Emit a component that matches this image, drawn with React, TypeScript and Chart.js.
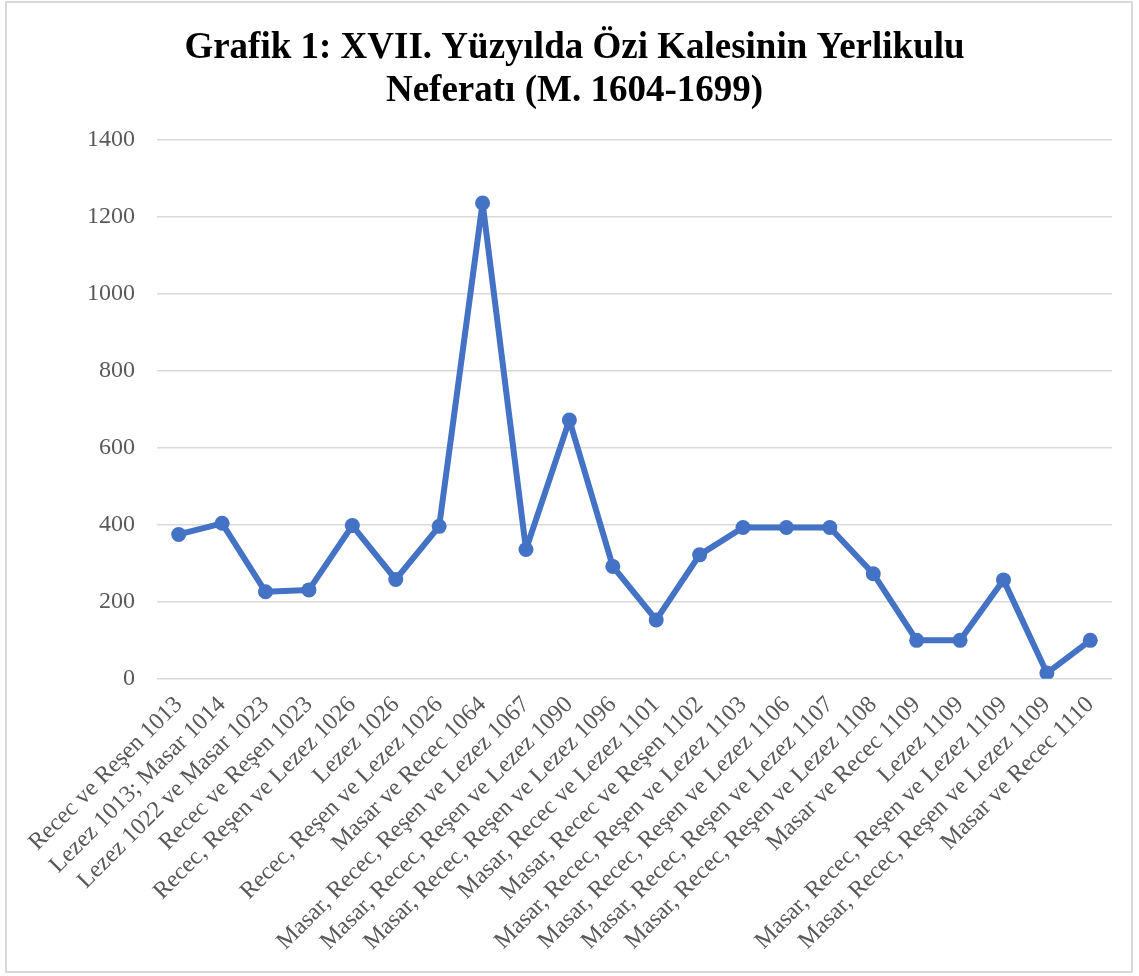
import React, { useEffect, useRef } from "react";
import { Chart, registerables } from "chart.js";

Chart.register(...registerables);

const categories: string[] = [
  "Recec ve Reşen 1013",
  "Lezez 1013; Masar 1014",
  "Lezez 1022 ve Masar 1023",
  "Recec ve Reşen 1023",
  "Recec, Reşen ve Lezez 1026",
  "Lezez 1026",
  "Recec, Reşen ve Lezez 1026",
  "Masar ve Recec 1064",
  "Masar, Recec, Reşen ve Lezez 1067",
  "Masar, Recec, Reşen ve Lezez 1090",
  "Masar, Recec, Reşen ve Lezez 1096",
  "Masar, Recec ve Lezez 1101",
  "Masar, Recec ve Reşen 1102",
  "Masar, Recec, Reşen ve Lezez 1103",
  "Masar, Recec, Reşen ve Lezez 1106",
  "Masar, Recec, Reşen ve Lezez 1107",
  "Masar, Recec, Reşen ve Lezez 1108",
  "Masar ve Recec 1109",
  "Lezez 1109",
  "Masar, Recec, Reşen ve Lezez 1109",
  "Masar, Recec, Reşen ve Lezez 1109",
  "Masar ve Recec 1110",
];

const neferat: number[] = [
  375, 404, 226, 231, 398, 258, 396, 1236, 336, 672, 292, 153, 322, 393, 393, 393, 273, 100, 100, 257, 15, 100,
];

const titleLines: string[] = [
  "Grafik 1: XVII. Yüzyılda Özi Kalesinin Yerlikulu",
  "Neferatı (M. 1604-1699)",
];

const yMin = 0;
const yMax = 1400;
const yStep = 200;

const serif = "'Liberation Serif', 'Times New Roman', serif";

export default function App() {
  const canvasRef = useRef<HTMLCanvasElement | null>(null);

  useEffect(() => {
    if (!canvasRef.current) return;
    const chart = new Chart(canvasRef.current, {
      type: "line",
      data: {
        labels: categories,
        datasets: [
          {
            data: neferat,
            borderColor: "#4472C4",
            backgroundColor: "#4472C4",
            borderWidth: 6,
            borderJoinStyle: "round",
            borderCapStyle: "round",
            pointRadius: 7.5,
            pointHoverRadius: 7.5,
            pointBorderWidth: 0,
            tension: 0,
          },
        ],
      },
      options: {
        animation: false,
        responsive: true,
        maintainAspectRatio: false,
        layout: { padding: { left: 37, right: 27, top: 0, bottom: 16 } },
        plugins: {
          legend: { display: false },
          tooltip: { enabled: false },
          title: {
            display: true,
            text: titleLines,
            color: "#000000",
            font: { family: serif, size: 37, weight: "bold", lineHeight: 1.16 },
            padding: { top: 27, bottom: 27 },
          },
        },
        scales: {
          x: {
            offset: true,
            grid: { display: false },
            border: { display: false },
            ticks: {
              color: "#595959",
              font: { family: serif, size: 24 },
              minRotation: 45,
              maxRotation: 45,
              autoSkip: false,
              padding: 4,
            },
          },
          y: {
            min: yMin,
            max: yMax,
            grid: { color: "#D9D9D9", lineWidth: 1.5, drawTicks: false },
            border: { display: false },
            afterFit: (scale: any) => {
              scale.width = 120;
            },
            ticks: {
              stepSize: yStep,
              color: "#595959",
              font: { family: serif, size: 24 },
              padding: 22,
              callback: (v: any) => String(v),
            },
          },
        },
      },
    });
    return () => chart.destroy();
  }, []);

  return (
    <div style={{ position: "absolute", left: 0, top: 0, width: 1139, height: 976, background: "#fff" }}>
      <div
        style={{
          position: "absolute",
          left: 5,
          top: 1,
          width: 1128,
          height: 972,
          border: "2px solid #D9D9D9",
          boxSizing: "border-box",
        }}
      />
      <div style={{ position: "absolute", left: 0, top: 0, width: 1139, height: 976 }}>
        <canvas ref={canvasRef} />
      </div>
    </div>
  );
}
